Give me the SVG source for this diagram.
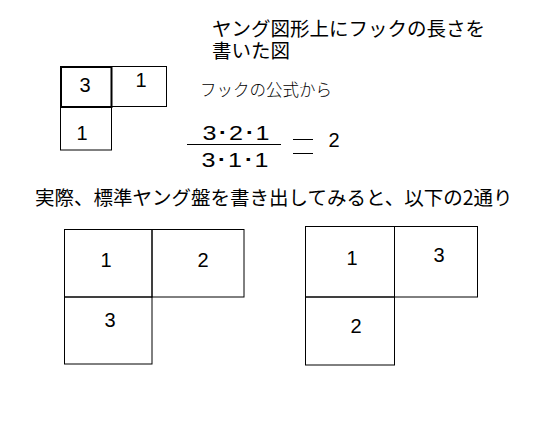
<svg xmlns="http://www.w3.org/2000/svg" width="545" height="445" viewBox="0 0 545 445">
<style>
.bg{fill:#fff}
.c{fill:none;stroke:#000;stroke-width:1}
.ct{fill:none;stroke:#000;stroke-width:2}
.n{font-family:"Liberation Sans",Arial,sans-serif;font-size:20px;fill:#000;text-anchor:middle}
.j{font-family:"Noto Sans CJK JP",sans-serif;fill:#000}
</style>
<rect class="bg" x="0" y="0" width="545" height="445"/>
<g id="title">
<text class="j" x="212" y="36" font-size="19.5"><tspan x="212" y="36">ヤング図形上にフックの長さを</tspan><tspan x="212" y="58">書いた図</tspan></text>
</g>
<g id="hook-tableau">
<rect class="ct" x="61" y="67" width="50.5" height="40"/>
<rect class="c" x="111.5" y="66.5" width="55" height="40"/>
<rect class="c" x="60.5" y="106.5" width="51" height="43.5"/>
<text class="n" x="85" y="92">3</text>
<text class="n" x="141" y="87">1</text>
<text class="n" x="82" y="140">1</text>
</g>
<g id="formula">
<text class="j" x="200" y="96" font-size="16.5" font-weight="300">フックの公式から</text>
<text class="n" x="236" y="140" textLength="67" lengthAdjust="spacingAndGlyphs">3･2･1</text>
<line class="c" x1="187" y1="144.5" x2="281" y2="144.5"/>
<text class="n" x="235" y="167" textLength="67" lengthAdjust="spacingAndGlyphs">3･1･1</text>
<line class="c" x1="293" y1="139.5" x2="313" y2="139.5"/>
<line class="c" x1="293" y1="153.5" x2="313" y2="153.5"/>
<text class="n" x="334" y="147">2</text>
</g>
<g id="caption">
<text class="j" x="35" y="205" font-size="19.5">実際、標準ヤング盤を書き出してみると、以下の2通り</text>
</g>
<g id="tableau-1">
<rect class="c" x="64.5" y="229.5" width="87.5" height="67.5"/>
<rect class="c" x="152" y="229.5" width="92" height="67.5"/>
<rect class="c" x="64.5" y="297" width="87.5" height="67"/>
<text class="n" x="106" y="267">1</text>
<text class="n" x="203" y="267">2</text>
<text class="n" x="110" y="327">3</text>
</g>
<g id="tableau-2">
<rect class="c" x="305.5" y="226.5" width="89" height="70.5"/>
<rect class="c" x="394.5" y="226.5" width="83" height="70.5"/>
<rect class="c" x="305.5" y="297" width="89" height="68"/>
<text class="n" x="352" y="265">1</text>
<text class="n" x="439" y="262">3</text>
<text class="n" x="356" y="333">2</text>
</g>
</svg>
